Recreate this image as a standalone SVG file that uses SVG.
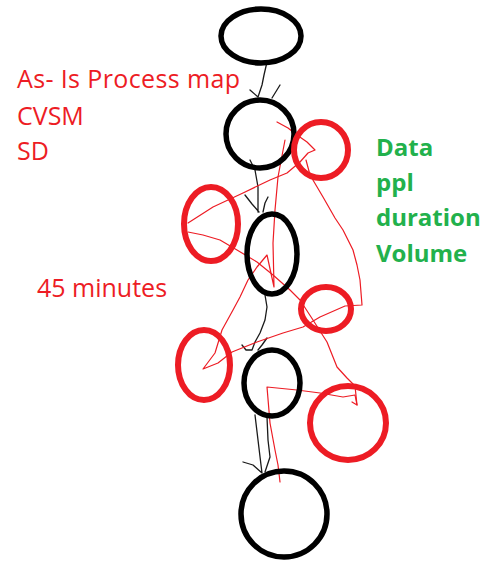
<svg xmlns="http://www.w3.org/2000/svg" width="487" height="563" viewBox="0 0 487 563">
<style>
.bn{fill:none;stroke:#000;stroke-width:5.5}
.rn{fill:none;stroke:#ed1c24;stroke-width:6}
.rl{fill:none;stroke:#ed1c24;stroke-width:1.2;stroke-linejoin:round;stroke-linecap:round}
.cl{fill:none;stroke:#1a1a1a;stroke-width:1.3;stroke-linejoin:round;stroke-linecap:round}
.rt{font-family:"Open Sans","Liberation Sans",sans-serif;font-size:25px;fill:#ed1c24}
.gt{font-family:"Open Sans","Liberation Sans",sans-serif;font-size:24px;font-weight:bold;fill:#22b14c}
</style>
<rect width="487" height="563" fill="#fff"/>
<g id="connectors">
<path class="cl" d="M267,62 L264,75 L262,85 L258,97 M250,90 L258,97 M280,85 L272,98"/>
<path class="cl" d="M250,160 L255,170 L258,187 L258,212 M245,195 L252,204 L259,212 M268,197 L265,203 L263,212"/>
<path class="cl" d="M265,295 L267,307 L265,320 L260,333 L255,342 L252,350 M242,345 L246,350 L252,350 M267,338 L262,345 L258,350"/>
<path class="cl" d="M255,415 L258,440 L261,465 L262,473 M267,417 L268,440 L270,457 L265,472 M243,462 L253,465 L262,473"/>
</g>
<g id="red-lines">
<path class="rl" d="M277,122 L288,128 L297,135 L307,142 L315,150 L308,153 L300,162 L287,173 L270,180 L243,193 L213,207 L188,223"/>
<path class="rl" d="M188,232 L203,235 L220,240 L237,250 L257,262 L273,275 L290,290 L300,300 L313,320 L327,342 L337,367 L347,378 L355,386 L357,405 L352,402"/>
<path class="rl" d="M285,140 L278,177 L275,210 L273,243 L274,287 L267,255 L257,267 L248,280 L240,297 L233,310 L222,330 L215,353 L203,369 L218,363 L232,352 L257,342 L283,333 L303,327 L320,317 L345,306 L362,305 L360,280 L357,265 L353,250 L343,230 L335,218 L323,197 L310,175 L306,160"/>
<path class="rl" d="M280,482 L278,465 L275,450 L270,423 L267,387 L297,390 L320,393 L343,397 L355,395 L357,405"/>
</g>
<g id="node-1"><ellipse class="bn" cx="261" cy="36" rx="40" ry="27"/></g>
<g id="node-2"><ellipse class="bn" cx="260" cy="134" rx="34" ry="34"/></g>
<g id="node-3"><ellipse class="bn" cx="272" cy="254" rx="25" ry="40"/></g>
<g id="node-4"><ellipse class="bn" cx="272" cy="383" rx="28" ry="33"/></g>
<g id="node-5"><ellipse class="bn" cx="284" cy="514" rx="43" ry="43"/></g>
<g id="red-a"><ellipse class="rn" cx="321" cy="150" rx="27" ry="28"/></g>
<g id="red-b"><ellipse class="rn" cx="211" cy="224" rx="27" ry="37"/></g>
<g id="red-c"><ellipse class="rn" cx="326" cy="309" rx="25" ry="22"/></g>
<g id="red-d"><ellipse class="rn" cx="204" cy="365" rx="26" ry="35"/></g>
<g id="red-e"><ellipse class="rn" cx="348" cy="423" rx="38" ry="37"/></g>
<g id="text-left">
<text class="rt" x="17" y="88" textLength="223">As- Is Process map</text>
<text class="rt" x="17" y="125">CVSM</text>
<text class="rt" x="17" y="160">SD</text>
<text class="rt" x="37" y="297">45 minutes</text>
</g>
<g id="text-right">
<text class="gt" x="376" y="156">Data</text>
<text class="gt" x="376" y="191">ppl</text>
<text class="gt" x="376" y="226">duration</text>
<text class="gt" x="376" y="262">Volume</text>
</g>
</svg>
